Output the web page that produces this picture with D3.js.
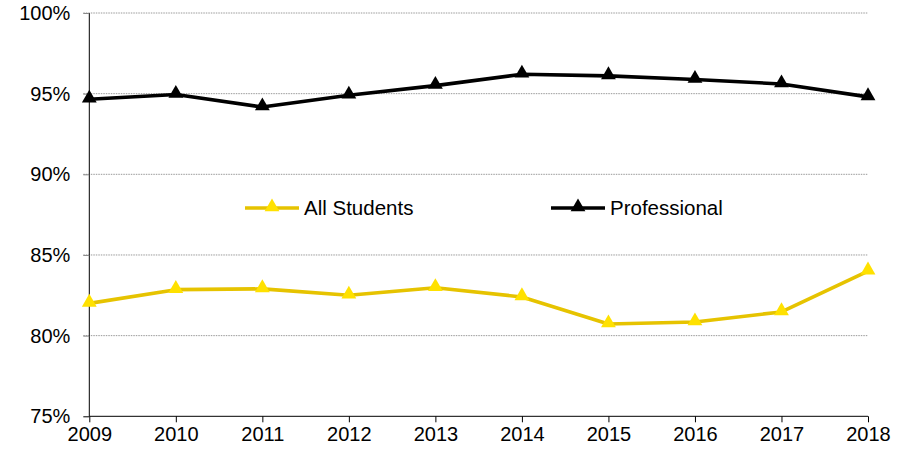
<!DOCTYPE html>
<html>
<head>
<meta charset="utf-8">
<script src="https://cdn.jsdelivr.net/npm/d3@7"></script>
<style>
  html, body { margin: 0; padding: 0; background: #fff; }
  svg { display: block; font-family: "Liberation Sans", Arial, sans-serif; }
</style>
</head>
<body>
<svg id="chart" width="911" height="454"></svg>
<script>
const years = [2009, 2010, 2011, 2012, 2013, 2014, 2015, 2016, 2017, 2018];
const allStudents = [82.0, 82.85, 82.9, 82.5, 82.97, 82.4, 80.72, 80.85, 81.47, 84.0];
const professional = [94.65, 94.95, 94.17, 94.9, 95.5, 96.2, 96.1, 95.88, 95.6, 94.8];
const yTicks = [75, 80, 85, 90, 95, 100];
const seriesNames = ["All Students", "Professional"];

(function () {
const svg = d3.select("#chart");
const pLeft = 89.3, pRight = 868, pTop = 13, pBottom = 416.3;

const x = d3.scaleLinear().domain([2009, 2018]).range([pLeft, pRight]);
const y = d3.scaleLinear().domain([75, 100]).range([pBottom, pTop]);

// gridlines
svg.append("g").selectAll("line")
  .data(yTicks.filter(d => d > 75))
  .join("line")
  .attr("x1", pLeft - 6).attr("x2", pRight)
  .attr("y1", d => y(d)).attr("y2", d => y(d))
  .attr("stroke", "#9a9a9a").attr("stroke-width", 1)
  .attr("stroke-dasharray", "1.5,1");

// y axis
const yAxis = svg.append("g")
  .attr("transform", `translate(${pLeft},0)`)
  .call(d3.axisLeft(y).tickValues(yTicks).tickSize(6).tickPadding(13).tickFormat(d => d + "%"));
yAxis.select(".domain").attr("stroke", "#000").attr("d", `M0,${pBottom}V${pTop}`);
yAxis.selectAll(".tick line").attr("stroke", d => d === 75 ? "#000" : "#8a8a8a");
yAxis.selectAll("text").attr("font-size", 20).attr("fill", "#000")
  .attr("font-family", "Liberation Sans, Arial, sans-serif");

// x axis
const xAxis = svg.append("g")
  .attr("transform", `translate(0,${pBottom})`)
  .call(d3.axisBottom(x).tickValues(years).tickSize(6).tickPadding(5).tickFormat(d3.format("d")));
xAxis.select(".domain").attr("stroke", "#000").attr("d", `M${pLeft},0H${pRight}`);
xAxis.selectAll(".tick line").attr("stroke", "#000");
xAxis.selectAll("text").attr("font-size", 20).attr("fill", "#000")
  .attr("font-family", "Liberation Sans, Arial, sans-serif");

const series = [
  { name: seriesNames[0], values: allStudents, line: "#E6C300", marker: "#FFE100" },
  { name: seriesNames[1], values: professional, line: "#000000", marker: "#000000" }
];

const lineGen = d3.line().x((d, i) => x(years[i])).y(d => y(d));
const tri = d3.symbol().type(d3.symbolTriangle).size(95);

series.forEach(s => {
  svg.append("path")
    .datum(s.values)
    .attr("d", lineGen)
    .attr("fill", "none")
    .attr("stroke", s.line)
    .attr("stroke-width", 3.6)
    .attr("stroke-linejoin", "round");
  svg.append("g").selectAll("path")
    .data(s.values)
    .join("path")
    .attr("d", tri)
    .attr("transform", (d, i) => `translate(${x(years[i])},${y(d) - 1})`)
    .attr("fill", s.marker);
});

// legend
const legendItems = [
  { s: series[0], x0: 245 },
  { s: series[1], x0: 551 }
];
const ly = 208;
legendItems.forEach(it => {
  const g = svg.append("g");
  g.append("line")
    .attr("x1", it.x0).attr("x2", it.x0 + 54)
    .attr("y1", ly).attr("y2", ly)
    .attr("stroke", it.s.line).attr("stroke-width", 3.6);
  g.append("path")
    .attr("d", tri)
    .attr("transform", `translate(${it.x0 + 27},${ly - 1})`)
    .attr("fill", it.s.marker);
  g.append("text")
    .attr("x", it.x0 + 59).attr("y", ly)
    .attr("dy", "0.35em")
    .attr("font-size", 20.5)
    .attr("fill", "#000")
    .text(it.s.name);
});
})();
</script>
</body>
</html>
